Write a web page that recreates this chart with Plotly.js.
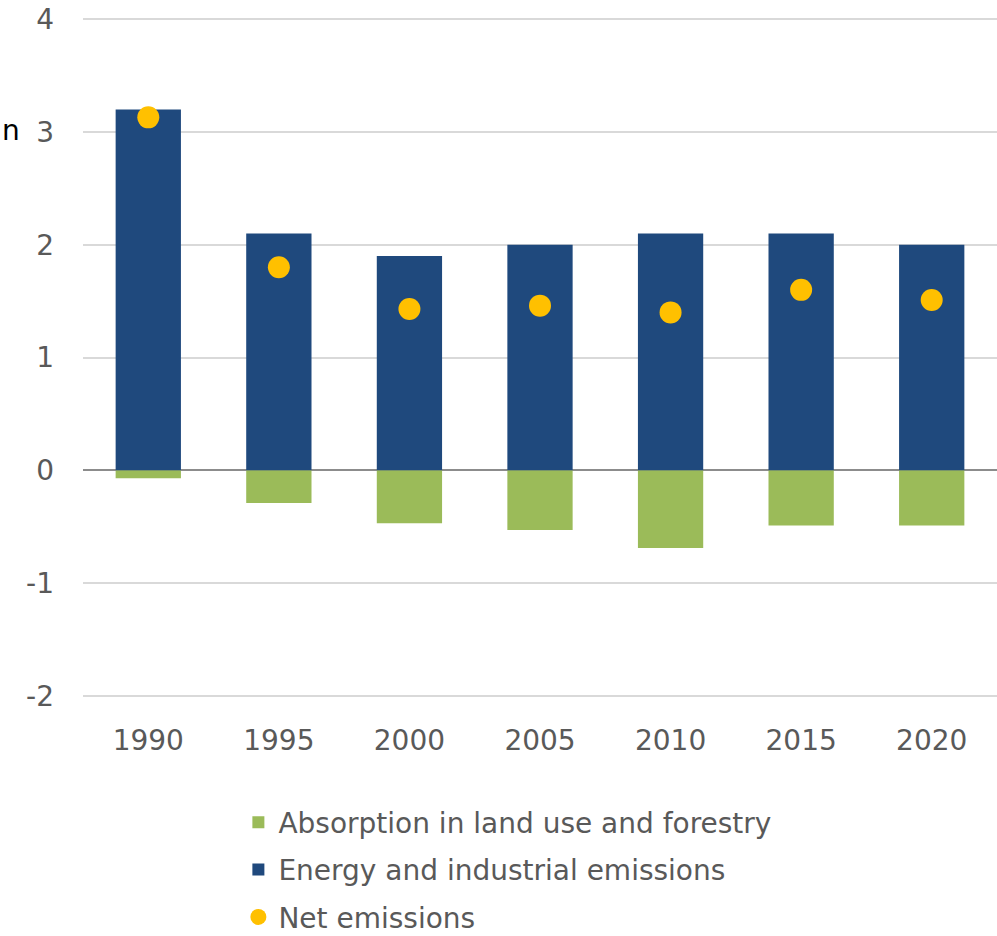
<!DOCTYPE html>
<html>
<head>
<meta charset="utf-8">
<script src="https://cdn.plot.ly/plotly-3.0.1.min.js"></script>
<style>html,body{margin:0;padding:0;background:#fff;}#chart{width:997px;height:936px;}</style>
</head>
<body>
<div id="chart"></div>
<script>
const years = ["1990", "1995", "2000", "2005", "2010", "2015", "2020"];
const energyEmissions = [3.2, 2.1, 1.9, 2.0, 2.1, 2.1, 2.0];
const landUseAbsorption = [-0.07, -0.29, -0.47, -0.53, -0.69, -0.49, -0.49];
const netEmissions = [3.13, 1.8, 1.43, 1.46, 1.40, 1.6, 1.51];
const yTicks = [-2, -1, 0, 1, 2, 3, 4];

const font = "DejaVu Sans, Verdana, sans-serif";
const traces = [
  {type: "bar", name: "Absorption in land use and forestry", x: years, y: landUseAbsorption,
   marker: {color: "#9BBB59"}, width: 0.5, hoverinfo: "y", legendgroup: "a"},
  {type: "bar", name: "Energy and industrial emissions", x: years, y: energyEmissions,
   marker: {color: "#1F497D"}, width: 0.5, hoverinfo: "y", legendgroup: "b"},
  {type: "scatter", mode: "markers", name: "Net emissions", x: years, y: netEmissions,
   marker: {color: "#FFC000", size: 22}, legendgroup: "c"}
];
const layout = {
  width: 997, height: 936,
  margin: {l: 83, r: 0, t: 17, b: 238, autoexpand: false},
  barmode: "relative",
  paper_bgcolor: "#fff", plot_bgcolor: "#fff",
  font: {family: font, size: 28, color: "#595959"},
  xaxis: {type: "category", showgrid: false, ticks: "", tickfont: {size: 28, color: "#595959"},
          ticklabelstandoff: 23, automargin: false},
  yaxis: {range: [-2.02, 4.02], tickvals: yTicks, ticktext: yTicks.map(String), showgrid: true,
          gridcolor: "#D9D9D9", gridwidth: 1.5, zeroline: true, zerolinecolor: "#8C8C8C", zerolinewidth: 2,
          ticks: "", tickfont: {size: 28, color: "#595959"}, ticklabelstandoff: 28, automargin: false},
  showlegend: true,
  legend: {orientation: "v", traceorder: "grouped", x: 0.17, xanchor: "left", y: -0.146, yanchor: "top",
           font: {size: 28, color: "#595959"}, tracegroupgap: 8, itemwidth: 30, borderwidth: 0},
  annotations: [{xref: "paper", yref: "paper", x: -0.091, y: 0.833, xanchor: "left", yanchor: "middle",
                 text: "n", showarrow: false, font: {size: 28, color: "#000"}}]
};
Plotly.newPlot("chart", traces, layout, {displayModeBar: false});
</script>
</body>
</html>
